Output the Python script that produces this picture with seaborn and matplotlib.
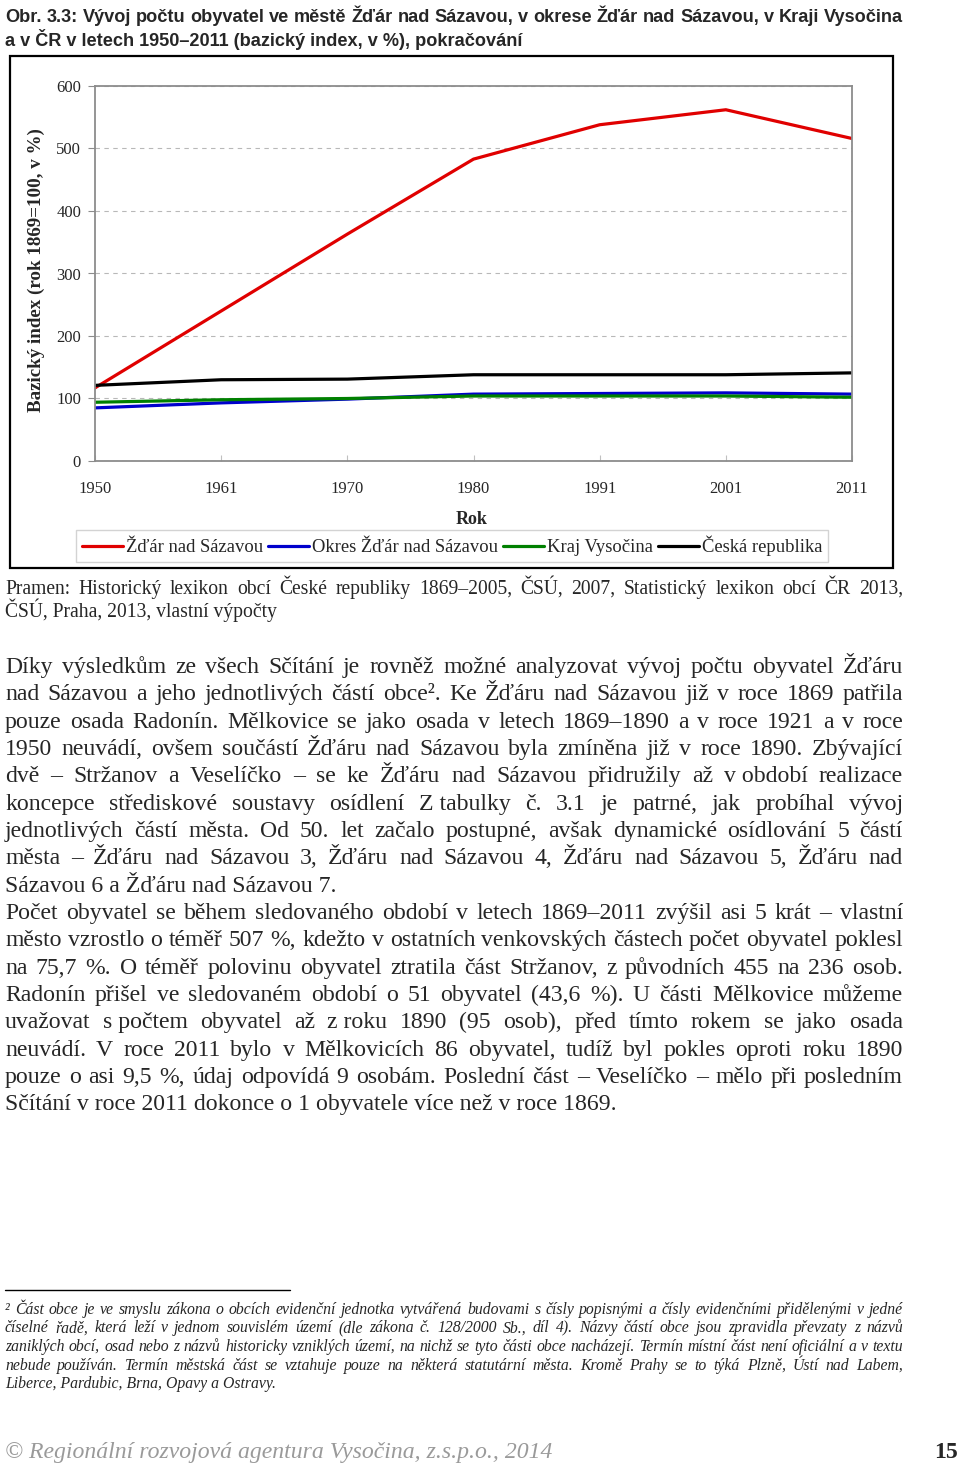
import matplotlib
matplotlib.use('Agg')
import matplotlib.pyplot as plt
import seaborn as sns
import pandas as pd
from matplotlib.transforms import Affine2D
from matplotlib.lines import Line2D
from matplotlib.patches import Rectangle

# ---------------- data ----------------
years = ['1950', '1961', '1970', '1980', '1991', '2001', '2011']
zdar = [117, 240, 363, 483, 538, 562, 516]
okres = [85, 93, 99, 107, 108, 109, 107]
kraj = [94, 98, 100, 104, 104, 104, 102]
cr = [121, 130, 131, 138, 138, 138, 141]
series_names = ['Žďár nad Sázavou', 'Okres Žďár nad Sázavou', 'Kraj Vysočina', 'Česká republika']
series_colors = ['#e00000', '#0000cc', '#008000', '#000000']
y_ticks = [0, 100, 200, 300, 400, 500, 600]

title_lines = [
    'Obr. 3.3: Vývoj počtu obyvatel ve městě Žďár nad Sázavou, v okrese Žďár nad Sázavou, v Kraji Vysočina',
    'a v ČR v letech 1950–2011 (bazický index, v %), pokračování',
]
y_label = 'Bazický index (rok 1869=100, v %)'
x_label = 'Rok'
source_lines = [
    'Pramen: Historický lexikon obcí České republiky 1869–2005, ČSÚ, 2007, Statistický lexikon obcí ČR 2013,',
    'ČSÚ, Praha, 2013, vlastní výpočty',
]
para1 = [
    'Díky výsledkům ze všech Sčítání je rovněž možné analyzovat vývoj počtu obyvatel Žďáru',
    'nad Sázavou a jeho jednotlivých částí obce². Ke Žďáru nad Sázavou již v roce 1869 patřila',
    'pouze osada Radonín. Mělkovice se jako osada v letech 1869–1890 a v roce 1921 a v roce',
    '1950 neuvádí, ovšem součástí Žďáru nad Sázavou byla zmíněna již v roce 1890. Zbývající',
    'dvě – Stržanov a Veselíčko – se ke Žďáru nad Sázavou přidružily až v\u00a0období realizace',
    'koncepce střediskové soustavy osídlení Z\u00a0tabulky č. 3.1 je patrné, jak probíhal vývoj',
    'jednotlivých částí města. Od 50. let začalo postupné, avšak dynamické osídlování 5 částí',
    'města – Žďáru nad Sázavou 3, Žďáru nad Sázavou 4, Žďáru nad Sázavou 5, Žďáru nad',
    'Sázavou 6 a Žďáru nad Sázavou 7.',
]
para2 = [
    'Počet obyvatel se během sledovaného období v letech 1869–2011 zvýšil asi 5 krát – vlastní',
    'město vzrostlo o téměř 507 %, kdežto v ostatních venkovských částech počet obyvatel poklesl',
    'na 75,7 %. O téměř polovinu obyvatel ztratila část Stržanov, z původních 455 na 236 osob.',
    'Radonín přišel ve sledovaném období o 51 obyvatel (43,6 %). U části Mělkovice můžeme',
    'uvažovat s\u00a0počtem obyvatel až z\u00a0roku 1890 (95 osob), před tímto rokem se jako osada',
    'neuvádí. V roce 2011 bylo v Mělkovicích 86 obyvatel, tudíž byl pokles oproti roku 1890',
    'pouze o asi 9,5 %, údaj odpovídá 9 osobám. Poslední část – Veselíčko – mělo při posledním',
    'Sčítání v roce 2011 dokonce o 1 obyvatele více než v roce 1869.',
]
footnote = [
    '² Část obce je ve smyslu zákona o obcích evidenční jednotka vytvářená budovami s čísly popisnými a čísly evidenčními přidělenými v jedné',
    'číselné řadě, která leží v jednom souvislém území (dle zákona č. 128/2000 Sb., díl 4). Názvy částí obce jsou zpravidla převzaty z názvů',
    'zaniklých obcí, osad nebo z názvů historicky vzniklých území, na nichž se tyto části obce nacházejí. Termín místní část není oficiální a v textu',
    'nebude používán. Termín městská část se vztahuje pouze na některá statutární města. Kromě Prahy se to týká Plzně, Ústí nad Labem,',
    'Liberce, Pardubic, Brna, Opavy a Ostravy.',
]
footer_text = '© Regionální rozvojová agentura Vysočina, z.s.p.o., 2014'
page_no = '15'

# ---------------- figure ----------------
W, H, DPI = 960, 1463, 100
sns.set_style('white')
plt.rcParams['font.family'] = ['Liberation Serif', 'DejaVu Serif']
fig = plt.figure(figsize=(W / DPI, H / DPI), dpi=DPI)
px = Affine2D().scale(1 / DPI, -1 / DPI).translate(0, H / DPI) + fig.dpi_scale_trans
renderer = fig.canvas.get_renderer()

# ---------------- chart ----------------
ax = fig.add_axes([95 / W, 1 - 461 / H, (852 - 95) / W, (461 - 86) / H])
rows = []
for name, vals in zip(series_names, [zdar, okres, kraj, cr]):
    for i, v in enumerate(vals):
        rows.append({'pos': i, 'value': v, 'series': name})
df = pd.DataFrame(rows)
sns.lineplot(data=df, x='pos', y='value', hue='series', hue_order=series_names,
             palette=dict(zip(series_names, series_colors)), linewidth=2.3,
             ax=ax, legend=False, sort=False)
ax.set_xlim(0, len(years) - 1)
ax.set_ylim(0, 600)
ax.set_xticks(range(len(years)))
ax.set_xticklabels(years)
ax.set_yticks(y_ticks)
ax.yaxis.grid(True, color='#b8b8b8', linestyle=(0, (4, 4)), linewidth=0.8)
ax.xaxis.grid(False)
ax.set_axisbelow(True)
for s in ax.spines.values():
    s.set_visible(True)
    s.set_color('#8c8c8c')
    s.set_linewidth(1.3)
ax.tick_params(axis='y', direction='out', length=5, color='#8c8c8c', pad=5, labelsize=12, left=True)
ax.tick_params(axis='x', direction='in', length=4, color='#c0c0c0', pad=14.5, labelsize=12, bottom=True)
ax.set_xlabel(x_label, fontsize=13, fontweight='bold')
ax.set_ylabel(y_label, fontsize=13.7, fontweight='bold')
ax.xaxis.set_label_coords((472 - 95) / 757, (461 - 511) / 375)
ax.yaxis.set_label_coords((45 - 95) / 757, (461 - 270) / 375)

handles = [Line2D([0], [0], color=c, lw=2.3) for c in series_colors]
leg = fig.legend(handles, series_names, loc='center', bbox_to_anchor=(452, 546),
                 bbox_transform=px, ncol=4, frameon=True, fancybox=False,
                 edgecolor='#c8c8c8', fontsize=13.4, handlelength=2.2,
                 handletextpad=0.16, columnspacing=0.27, borderpad=0.3,
                 borderaxespad=0)
leg.get_frame().set_linewidth(1.0)

fig.add_artist(Rectangle((10, 56), 883, 512, transform=px, fill=False,
                         edgecolor='black', lw=1.6))

# ---------------- text helpers ----------------
def measure(s, **kw):
    t = fig.text(0, 0, s, transform=px, **kw)
    w = t.get_window_extent(renderer).width
    t.remove()
    return w


def fit(s, target, **kw):
    return 10 * target / measure(s, fontsize=10, **kw)


def put_line(s, x0, y, x1=None, **kw):
    if x1 is None:
        fig.text(x0, y, s, transform=px, va='baseline', ha='left', **kw)
        return
    words = s.split(' ')
    texts = [fig.text(0, y, w, transform=px, va='baseline', ha='left', **kw) for w in words]
    widths = [t.get_window_extent(renderer).width for t in texts]
    gap = (x1 - x0 - sum(widths)) / max(len(words) - 1, 1)
    x = x0
    for t, w in zip(texts, widths):
        t.set_x(x)
        x += w + gap


LEFT, RIGHT = 5, 903

# title
tprops = dict(family=['Liberation Sans', 'DejaVu Sans'], fontweight='bold')
tfs = fit(title_lines[1], 516, **tprops)
put_line(title_lines[0], LEFT, 22, RIGHT, fontsize=tfs, **tprops)
put_line(title_lines[1], LEFT, 46, fontsize=tfs, **tprops)

# source
sfs = fit(source_lines[1], 272)
put_line(source_lines[0], LEFT, 594, RIGHT, fontsize=sfs)
put_line(source_lines[1], LEFT, 617, fontsize=sfs)

# body
bfs = fit(para2[-1], 612)
step = 27.35
for i, line in enumerate(para1):
    last = i == len(para1) - 1
    put_line(line, LEFT, 673 + i * step, None if last else RIGHT, fontsize=bfs)
for i, line in enumerate(para2):
    last = i == len(para2) - 1
    put_line(line, LEFT, 919 + i * step, None if last else RIGHT, fontsize=bfs)

# footnote
fig.add_artist(Line2D([5, 290], [1290, 1290], transform=px, color='black', lw=1.0))
fprops = dict(style='italic')
ffs = fit(footnote[-1], 272, **fprops)
for i, line in enumerate(footnote):
    last = i == len(footnote) - 1
    put_line(line, LEFT, 1314 + i * 18.5, None if last else RIGHT, fontsize=ffs, **fprops)

# footer
pfs = fit(footer_text, 550, style='italic')
put_line(footer_text, LEFT, 1458, fontsize=pfs, style='italic', color='#9a9a9a')
fig.text(958, 1458, page_no, transform=px, va='baseline', ha='right',
         fontsize=pfs, fontweight='bold')

fig.savefig('out.png', dpi=DPI)
